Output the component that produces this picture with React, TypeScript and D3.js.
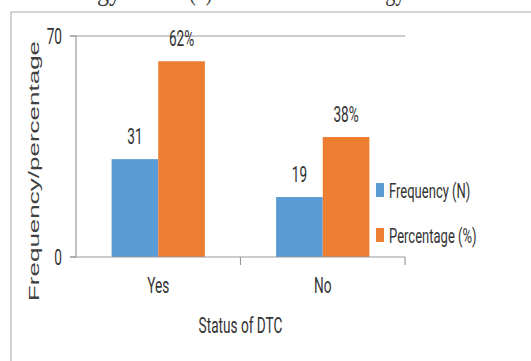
import React from "react";
import * as d3 from "d3";

const categories = ["Yes", "No"];
const seriesNames = ["Frequency (N)", "Percentage (%)"];
const frequency = [31, 19];
const percentage = [62, 38];
const percentLabels = ["62%", "38%"];
const yTicks = [0, 70];
const colors = ["#5b9bd5", "#ed7d31"];

const W = 531;
const H = 361;
const SX = 0.62;
const FONT = "Roboto, 'Liberation Sans', sans-serif";
const TXT = "#333333";

export default function App() {
  const x = d3.scaleBand<string>().domain(categories).range([76, 405]).paddingInner(0.433).paddingOuter(0.2165);
  const inner = d3.scaleBand<string>().domain(seriesNames).range([0, x.bandwidth()]).padding(0);
  const y = d3.scaleLinear().domain([0, 70]).range([257, 36]);

  const rows = categories.map((c, i) => ({
    c,
    vals: [
      { s: seriesNames[0], v: frequency[i], label: String(frequency[i]) },
      { s: seriesNames[1], v: percentage[i], label: percentLabels[i] },
    ],
  }));

  const step = x.step();
  const [r0, r1] = x.range();
  const boundaries = d3.range(categories.length + 1).map((k) => r0 + k * step);

  const sText = (tx: number, ty: number, s = SX) => `translate(${tx},${ty}) scale(${s},1)`;

  return (
    <svg width={W} height={H} style={{ position: "absolute", left: 0, top: 0, background: "#fff" }}>
      <rect x={0} y={0} width={W} height={H} fill="#fff" />
      {/* partial page caption above figure (cut off at the top, as in the source image) */}
      <text x={-6} y={0} fontFamily="'Liberation Serif', 'DejaVu Serif', serif" fontSize={28} fill="#333" textLength={168} lengthAdjust="spacingAndGlyphs">
        methodology and
      </text>
      <text x={189} y={0} fontFamily="'Liberation Serif', 'DejaVu Serif', serif" fontSize={28} fill="#333" textLength={220} lengthAdjust="spacingAndGlyphs">
        (b) use of DTC technology.
      </text>
      {/* frame */}
      <line x1={11} y1={12} x2={W} y2={12} stroke="#a8a8a8" strokeWidth={1} />
      <line x1={11} y1={12} x2={11} y2={H} stroke="#a8a8a8" strokeWidth={1} />

      {/* gridline at top */}
      <line x1={70} x2={r1} y1={y(70)} y2={y(70)} stroke="#9a9a9a" strokeWidth={1.2} />
      {/* y axis */}
      <line x1={r0} x2={r0} y1={y(70)} y2={y(0)} stroke="#9a9a9a" strokeWidth={1.2} />
      {yTicks.map((t) => (
        <g key={t}>
          <line x1={70} x2={r0} y1={y(t)} y2={y(t)} stroke="#9a9a9a" strokeWidth={1.2} />
          <text transform={sText(62, y(t) + 8)} textAnchor="end" fontFamily={FONT} fontSize={22} fill={TXT}>
            {t}
          </text>
        </g>
      ))}

      {/* bars */}
      {rows.map((r) => (
        <g key={r.c} transform={`translate(${x(r.c)},0)`}>
          {r.vals.map((d, j) => (
            <g key={d.s}>
              <rect x={inner(d.s)} y={y(d.v)} width={inner.bandwidth()} height={y(0) - y(d.v)} fill={colors[j]} />
              <text
                transform={sText((inner(d.s) as number) + inner.bandwidth() / 2, y(d.v) - 15)}
                textAnchor="middle"
                fontFamily={FONT}
                fontSize={22}
                fill={TXT}
              >
                {d.label}
              </text>
            </g>
          ))}
        </g>
      ))}

      {/* x axis */}
      <line x1={70} x2={r1} y1={y(0)} y2={y(0)} stroke="#9a9a9a" strokeWidth={1.2} />
      {boundaries.slice(1).map((b, k) => (
        <line key={k} x1={b} x2={b} y1={y(0)} y2={y(0) + 8} stroke="#9a9a9a" strokeWidth={1.2} />
      ))}
      {categories.map((c) => (
        <text key={c} transform={sText((x(c) as number) + x.bandwidth() / 2, 293)} textAnchor="middle" fontFamily={FONT} fontSize={22} fill={TXT}>
          {c}
        </text>
      ))}
      <text transform={sText((r0 + r1) / 2, 333)} textAnchor="middle" fontFamily={FONT} fontSize={22} fill={TXT}>
        Status of DTC
      </text>

      {/* y title */}
      <g transform={`translate(39,171) scale(0.56,1) rotate(-90)`}>
        <text textAnchor="middle" fontFamily="'Liberation Sans', Arial, sans-serif" fontSize={26} fill="#404040">
          Frequency/percentage
        </text>
      </g>

      {/* legend */}
      {seriesNames.map((s, i) => (
        <g key={s} transform={`translate(376,${183 + i * 45})`}>
          <rect x={0} y={0} width={8} height={14} fill={colors[i]} />
          <text transform={sText(13, 15)} fontFamily={FONT} fontSize={21} fill={TXT}>
            {s}
          </text>
        </g>
      ))}
    </svg>
  );
}
